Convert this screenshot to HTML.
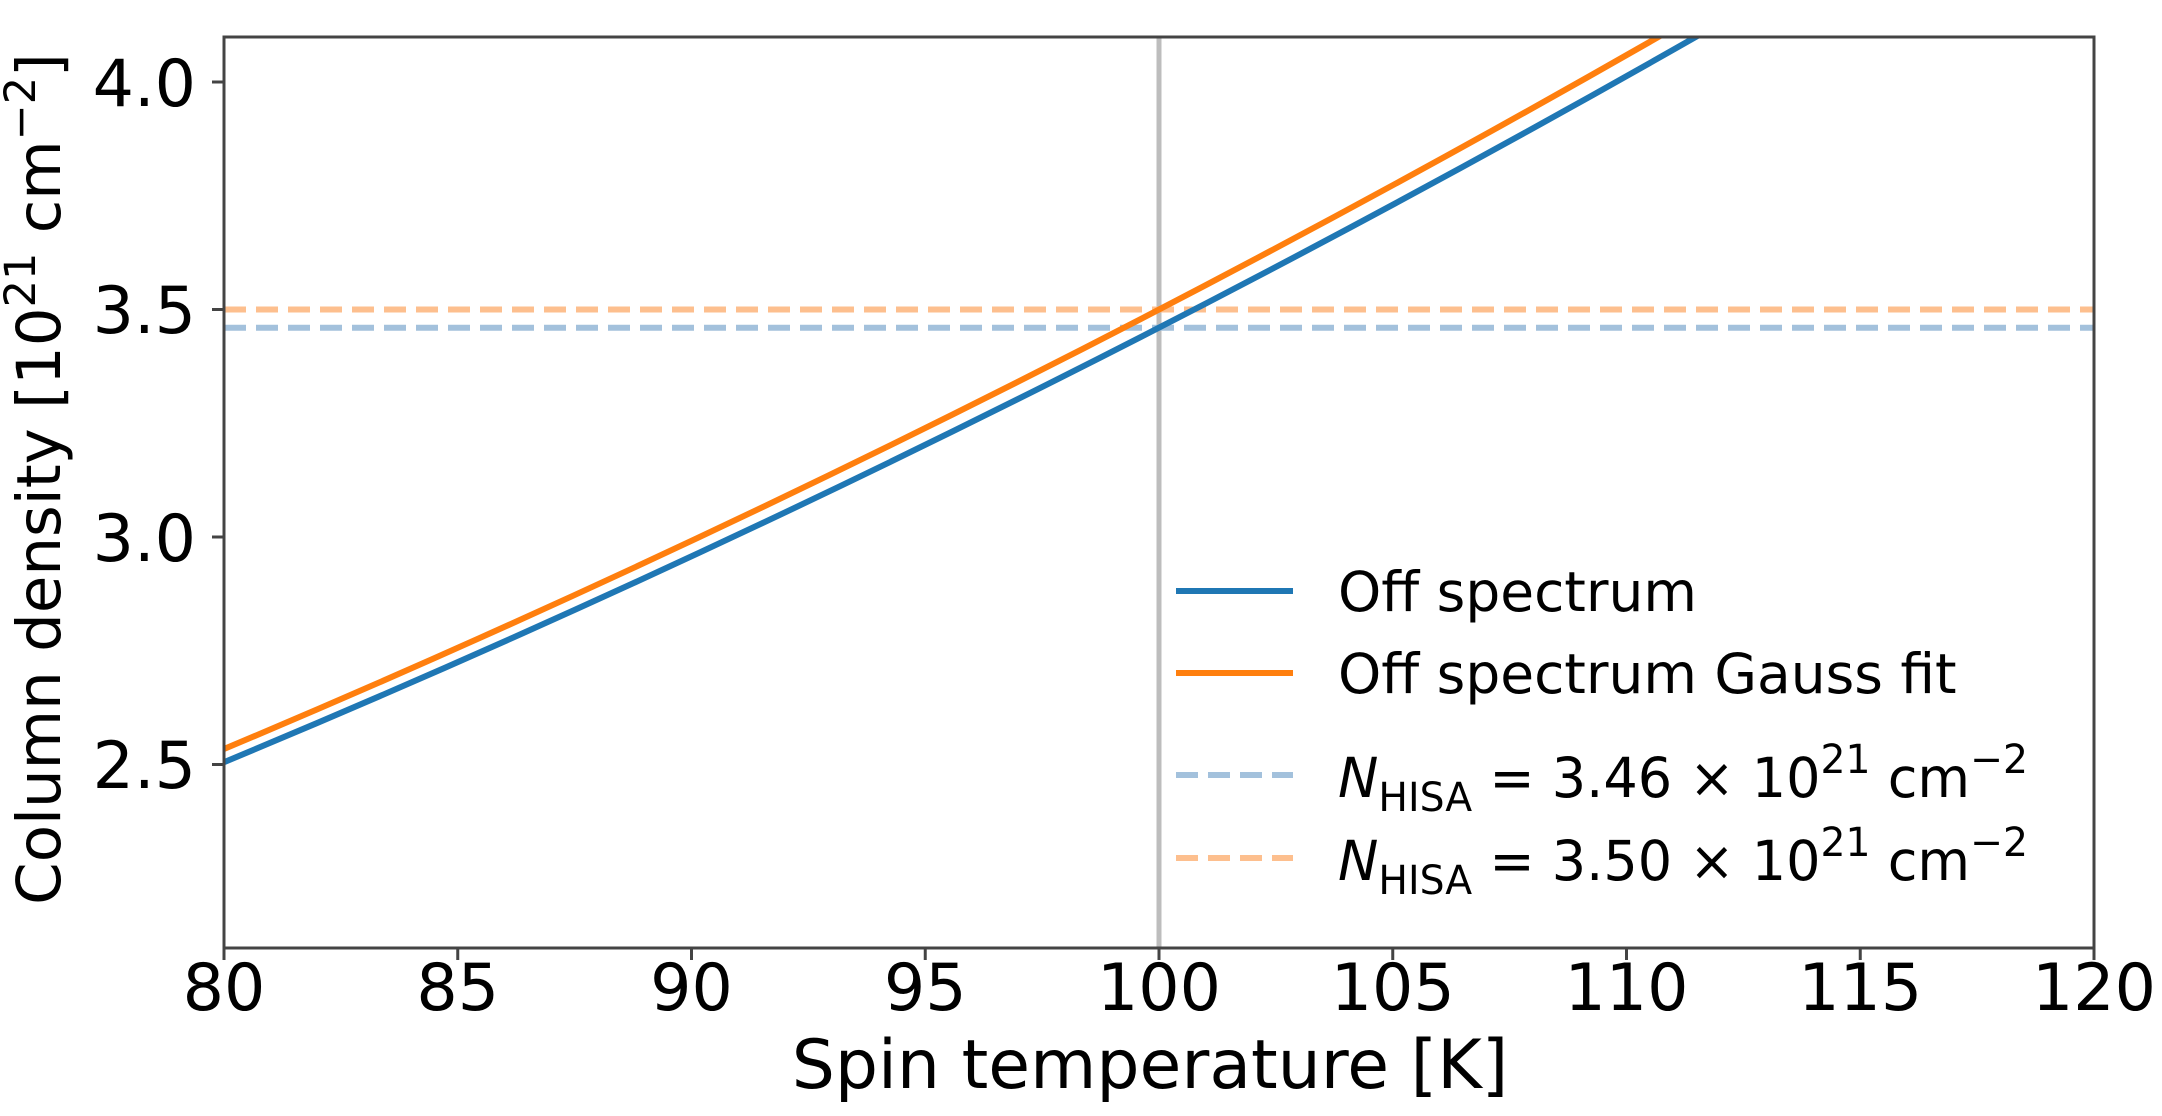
<!DOCTYPE html>
<html><head><meta charset="utf-8"><style>
html,body{margin:0;padding:0;background:#fff;}
svg{display:block;font-family:"DejaVu Sans","Liberation Sans",sans-serif;}
</style></head><body>
<svg width="2162" height="1116" viewBox="0 0 2162 1116" xmlns="http://www.w3.org/2000/svg">
<defs><clipPath id="c"><rect x="224" y="37" width="1870" height="911"/></clipPath></defs>
<g clip-path="url(#c)">
<line x1="1159" y1="37" x2="1159" y2="948" stroke="#bdbdbd" stroke-width="5"/>
<line x1="224" y1="327.7" x2="2094" y2="327.7" stroke="#a3c1dc" stroke-width="6" stroke-dasharray="22,10"/>
<line x1="224" y1="309.5" x2="2094" y2="309.5" stroke="#fdbf8e" stroke-width="6" stroke-dasharray="22,10"/>
<path d="M224,762.2 Q972,451.1 1720,23.1" fill="none" stroke="#1f77b4" stroke-width="6"/>
<path d="M224,749 Q972,434.4 1720,1.5" fill="none" stroke="#ff7f0e" stroke-width="6"/>
</g>
<rect x="224" y="37" width="1870" height="911" fill="none" stroke="#444" stroke-width="3"/>
<g stroke="#444" stroke-width="3">
<line x1="224" y1="948" x2="224" y2="960"/><line x1="457.75" y1="948" x2="457.75" y2="960"/>
<line x1="691.5" y1="948" x2="691.5" y2="960"/><line x1="925.25" y1="948" x2="925.25" y2="960"/>
<line x1="1159" y1="948" x2="1159" y2="960"/><line x1="1392.75" y1="948" x2="1392.75" y2="960"/>
<line x1="1626.5" y1="948" x2="1626.5" y2="960"/><line x1="1860.25" y1="948" x2="1860.25" y2="960"/>
<line x1="2094" y1="948" x2="2094" y2="960"/>
<line x1="212" y1="82" x2="224" y2="82"/><line x1="212" y1="309.5" x2="224" y2="309.5"/>
<line x1="212" y1="537" x2="224" y2="537"/><line x1="212" y1="764.5" x2="224" y2="764.5"/>
</g>
<g font-size="65" fill="#000" text-anchor="middle">
<text x="224" y="1010">80</text><text x="457.75" y="1010">85</text><text x="691.5" y="1010">90</text>
<text x="925.25" y="1010">95</text><text x="1159" y="1010">100</text><text x="1392.75" y="1010">105</text>
<text x="1626.5" y="1010">110</text><text x="1860.25" y="1010">115</text><text x="2094" y="1010">120</text>
</g>
<g font-size="65" fill="#000" text-anchor="end">
<text x="196" y="106">4.0</text><text x="196" y="333">3.5</text>
<text x="196" y="561">3.0</text><text x="196" y="788">2.5</text>
</g>
<text x="1150" y="1088" font-size="68" text-anchor="middle">Spin temperature [K]</text>
<text transform="translate(60,479) rotate(-90)" font-size="61" text-anchor="middle">Column density [10<tspan font-size="43" dy="-25">21</tspan><tspan dy="25"> cm</tspan><tspan font-size="43" dy="-25">−2</tspan><tspan dy="25">]</tspan></text>
<line x1="1176" y1="591" x2="1293" y2="591" stroke="#1f77b4" stroke-width="6"/>
<line x1="1176" y1="673" x2="1293" y2="673" stroke="#ff7f0e" stroke-width="6"/>
<line x1="1176" y1="775" x2="1293" y2="775" stroke="#a3c1dc" stroke-width="6" stroke-dasharray="22,10"/>
<line x1="1176" y1="858" x2="1293" y2="858" stroke="#fdbf8e" stroke-width="6" stroke-dasharray="22,10"/>
<g font-size="55" fill="#000">
<text x="1338" y="611">Off spectrum</text>
<text x="1338" y="693">Off spectrum Gauss fit</text>
<text x="1338" y="797" textLength="690" lengthAdjust="spacingAndGlyphs"><tspan font-style="italic">N</tspan><tspan font-size="40" dy="14">HISA</tspan><tspan dy="-14"> = 3.46 × 10</tspan><tspan font-size="40" dy="-24">21</tspan><tspan dy="24"> cm</tspan><tspan font-size="40" dy="-24">−2</tspan></text>
<text x="1338" y="880" textLength="690" lengthAdjust="spacingAndGlyphs"><tspan font-style="italic">N</tspan><tspan font-size="40" dy="14">HISA</tspan><tspan dy="-14"> = 3.50 × 10</tspan><tspan font-size="40" dy="-24">21</tspan><tspan dy="24"> cm</tspan><tspan font-size="40" dy="-24">−2</tspan></text>
</g>
</svg>
</body></html>
